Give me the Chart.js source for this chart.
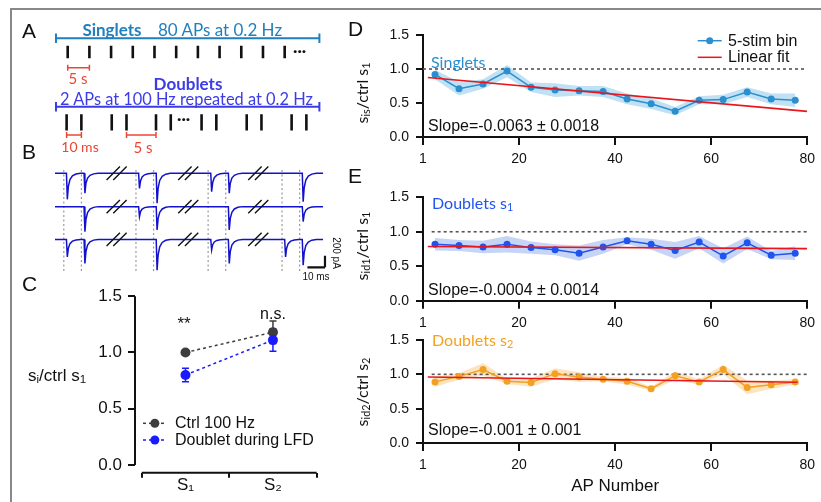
<!DOCTYPE html>
<html>
<head>
<meta charset="utf-8">
<script src="https://cdn.jsdelivr.net/npm/chart.js@4.4.1/dist/chart.umd.min.js"></script>
<style>
  body { margin: 0; background: #fff; }
  #fig { position: relative; width: 821px; height: 502px; overflow: hidden;
         font-family: "Liberation Sans", Arial, sans-serif; color: #111; }
  #fig canvas { position: absolute; }
  .frame { position: absolute; left: 10px; top: 8px; right: -10px; bottom: -10px;
           border-top: 2.5px solid #888; border-left: 2.5px solid #888; }
  .t { position: absolute; white-space: nowrap; line-height: 1; transform: translateY(-50%); }
  .c { transform: translate(-50%, -50%); }
  .rot { position: absolute; white-space: nowrap; line-height: 1; transform: translate(-50%, -50%) rotate(-90deg); }
  .cal { font-family: Lato, "Open Sans", sans-serif; }
  .letter { font-size: 21px; }
  sub { font-size: 0.68em; vertical-align: -0.22em; line-height: 0; }
</style>
</head>
<body>
<div id="fig">
  <div class="frame"></div>
  <canvas id="cA" width="345" height="150" style="left:0;top:10px"></canvas>
  <canvas id="cB" width="345" height="130" style="left:0;top:160px"></canvas>
  <canvas id="cC" width="345" height="222" style="left:0;top:280px"></canvas>
  <canvas id="cD" width="471" height="180" style="left:350px;top:0"></canvas>
  <canvas id="cE1" width="471" height="180" style="left:350px;top:165px"></canvas>
  <canvas id="cE2" width="471" height="182" style="left:350px;top:320px"></canvas>

  <!-- panel letters -->
  <div class="t letter" style="left:22px;top:30px">A</div>
  <div class="t letter" style="left:22px;top:151px">B</div>
  <div class="t letter" style="left:22px;top:283px">C</div>
  <div class="t letter" style="left:348px;top:28px">D</div>
  <div class="t letter" style="left:348px;top:175px">E</div>

  <!-- panel A text -->
  <div class="t c cal" style="left:112px;top:29px;font-size:17px;font-weight:bold;color:#1f7fbf">Singlets</div>
  <div class="t cal" style="left:158px;top:29px;font-size:17px;color:#1f7fbf">80 APs at 0.2 Hz</div>
  <div class="t cal" style="left:293px;top:50px;font-size:16px;font-weight:bold">···</div>
  <div class="t c cal" style="left:78px;top:78px;font-size:15px;color:#eb4632">5 s</div>
  <div class="t c cal" style="left:188px;top:83px;font-size:17px;font-weight:bold;color:#3c3ce6">Doublets</div>
  <div class="t cal" style="left:60px;top:99px;font-size:16.4px;color:#3c3ce6">2 APs at 100 Hz repeated at 0.2 Hz</div>
  <div class="t cal" style="left:177px;top:118px;font-size:16px;font-weight:bold">···</div>
  <div class="t c cal" style="left:80px;top:147px;font-size:14px;color:#eb4632">10 ms</div>
  <div class="t c cal" style="left:143px;top:147px;font-size:15px;color:#eb4632">5 s</div>

  <!-- panel B scale text -->
  <div class="t c" style="left:336px;top:253px;font-size:10px;transform:translate(-50%,-50%) rotate(90deg)">200 pA</div>
  <div class="t c" style="left:316px;top:277px;font-size:10px">10 ms</div>

  <!-- panel C text -->
  <div class="t" style="left:28px;top:375px;font-size:17px">s<sub>i</sub>/ctrl s<sub>1</sub></div>
  <div class="t c" style="left:184px;top:323px;font-size:17px">**</div>
  <div class="t c" style="left:273px;top:314px;font-size:16px">n.s.</div>
  <div class="t" style="left:175px;top:423px;font-size:16px">Ctrl 100 Hz</div>
  <div class="t" style="left:175px;top:440px;font-size:16px">Doublet during LFD</div>

  <!-- panel D / E text -->
  <div class="rot cal" style="left:362px;top:93px;font-size:16px">s<sub>is</sub>/ctrl s<sub>1</sub></div>
  <div class="rot cal" style="left:362px;top:246px;font-size:16px">s<sub>id1</sub>/ctrl s<sub>1</sub></div>
  <div class="rot cal" style="left:362px;top:392px;font-size:16px">s<sub>id2</sub>/ctrl s<sub>2</sub></div>
  <div class="t cal" style="left:431px;top:62px;font-size:16px;color:#2b8fcf">Singlets</div>
  <div class="t cal" style="left:432px;top:203px;font-size:16px;color:#1f55ee">Doublets s<sub>1</sub></div>
  <div class="t cal" style="left:432px;top:340px;font-size:16px;color:#f4a021">Doublets s<sub>2</sub></div>
  <div class="t" style="left:428px;top:126px;font-size:16px">Slope=-0.0063 ± 0.0018</div>
  <div class="t" style="left:428px;top:290px;font-size:16px">Slope=-0.0004 ± 0.0014</div>
  <div class="t" style="left:428px;top:430px;font-size:16px">Slope=-0.001 ± 0.001</div>
  <div class="t" style="left:728px;top:41px;font-size:16px">5-stim bin</div>
  <div class="t" style="left:728px;top:57px;font-size:16px">Linear fit</div>
</div>

<script>
// ---- panel A: stimulation schematic (x in units of one 5 s interval) ----
const singletPulses = [0, 1, 2, 3, 4, 5, 6, 7, 8, 9, 10];
const doubletStarts = [-0.05, 2.03, 4.07, 6.17, 8.25, 10.32];
const doubletGap = 0.68;
const trainSpan = [-0.54, 11.6];

// ---- panel B: example sweeps (drawn ms, peak amplitude pA, 0 = failure) ----
const stimTimes = [5, 15, 46, 56, 87, 97, 129, 139];
const sweep1Amp = [445, 340, 260, 510, 315, 340, 0, 485];
const sweep2Amp = [0, 430, 170, 400, 0, 400, 0, 255];
const sweep3Amp = [300, 410, 0, 525, 180, 410, 300, 440];
const sweepBase = [0, -570, -1130];
const breakTimes = [35, 75.7, 115.5];
const spikeShape = [[0, 0], [0.5, -1], [1.1, -0.5], [2, -0.24], [3.4, -0.1], [5.4, -0.03], [8, 0]];

// ---- panel C ----
const cCategories = ['S\u2081', 'S\u2082'];
const cCategoryPos = [0.5, 1.5];
const ctrlMean = [1.0, 1.18];
const ctrlSem = [0, 0.1];
const dblMean = [0.80, 1.11];
const dblSem = [0.06, 0.1];
const cTicks = [0, 0.5, 1.0, 1.5];

// ---- panels D / E ----
const apBins = [2.5, 7.5, 12.5, 17.5, 22.5, 27.5, 32.5, 37.5, 42.5, 47.5, 52.5, 57.5, 62.5, 67.5, 72.5, 77.5];
const apTickValues = [0, 20, 40, 60, 80];
const apTickLabels = ['1', '20', '40', '60', '80'];
const ratioTicks = [0, 0.5, 1.0, 1.5];

const singletMean = [0.92, 0.71, 0.78, 0.97, 0.73, 0.69, 0.68, 0.67, 0.56, 0.49, 0.38, 0.54, 0.55, 0.66, 0.56, 0.54];
const singletSem  = [0.07, 0.10, 0.07, 0.09, 0.07, 0.10, 0.07, 0.08, 0.08, 0.08, 0.06, 0.06, 0.07, 0.07, 0.08, 0.10];
const dbl1Mean = [0.82, 0.80, 0.78, 0.82, 0.77, 0.74, 0.69, 0.78, 0.87, 0.82, 0.73, 0.85, 0.65, 0.84, 0.66, 0.69];
const dbl1Sem  = [0.09, 0.08, 0.09, 0.12, 0.09, 0.08, 0.11, 0.10, 0.05, 0.08, 0.12, 0.09, 0.11, 0.09, 0.06, 0.10];
const dbl2Mean = [0.89, 0.97, 1.07, 0.90, 0.88, 1.01, 0.96, 0.93, 0.90, 0.79, 0.98, 0.89, 1.07, 0.81, 0.85, 0.89];
const dbl2Sem  = [0.07, 0.05, 0.09, 0.04, 0.06, 0.08, 0.07, 0.03, 0.05, 0.03, 0.06, 0.04, 0.07, 0.10, 0.06, 0.04];
// linear fits: x from, x to, y at start, slope
const singletFit = [1, 80, 0.874, -0.0063];
const dbl1Fit = [1, 80, 0.787, -0.0004];
const dbl2Fit = [1, 78, 0.961, -0.001];

const INK = '#111';
const FONT = '"Liberation Sans", Arial, sans-serif';

// list of [[x1,y1],[x2,y2]] segments -> points with gaps
function segs(list) {
  const out = [];
  list.forEach(([a, b]) => { out.push({x: a[0], y: a[1]}, {x: b[0], y: b[1]}, {x: b[0], y: null}); });
  return out;
}
function lineSet(data, color, width, extra) {
  return Object.assign({data, borderColor: color, borderWidth: width, pointRadius: 0, spanGaps: false, tension: 0}, extra || {});
}
const base = {
  responsive: false, animation: false, devicePixelRatio: 1,
  plugins: {legend: {display: false}, tooltip: {enabled: false}}
};

// axis lines drawn between two data values (detached Igor-style axes)
const igorAxes = {
  id: 'igorAxes',
  afterDraw(chart, args, opts) {
    if (!opts.x) return;
    const {ctx, chartArea, scales: {x, y}} = chart;
    ctx.save();
    ctx.strokeStyle = INK; ctx.lineWidth = 2;
    ctx.beginPath();
    ctx.moveTo(chartArea.left, y.getPixelForValue(opts.y[0]));
    ctx.lineTo(chartArea.left, y.getPixelForValue(opts.y[1]));
    ctx.moveTo(x.getPixelForValue(opts.x[0]), chartArea.bottom);
    ctx.lineTo(x.getPixelForValue(opts.x[1]), chartArea.bottom);
    ctx.stroke();
    ctx.restore();
  }
};

const errorBars = {
  id: 'errorBars',
  beforeDatasetsDraw(chart) {
    const {ctx} = chart;
    const ys = chart.scales.y;
    chart.data.datasets.forEach((ds, i) => {
      if (!ds.errors) return;
      const meta = chart.getDatasetMeta(i);
      ctx.save();
      ctx.strokeStyle = ds.borderColor; ctx.lineWidth = 1.5;
      meta.data.forEach((pt, j) => {
        const e = ds.errors[j];
        if (!e) return;
        const v = ds.data[j].y;
        const top = ys.getPixelForValue(v + e), bot = ys.getPixelForValue(v - e);
        ctx.beginPath();
        ctx.moveTo(pt.x, top); ctx.lineTo(pt.x, bot);
        ctx.moveTo(pt.x - 3.5, top); ctx.lineTo(pt.x + 3.5, top);
        ctx.moveTo(pt.x - 3.5, bot); ctx.lineTo(pt.x + 3.5, bot);
        ctx.stroke();
      });
      ctx.restore();
    });
  }
};

// legend symbols (line with optional dot)
const legendMarks = {
  id: 'legendMarks',
  afterDraw(chart, args, opts) {
    const {ctx} = chart;
    (opts.items || []).forEach(it => {
      ctx.save();
      ctx.strokeStyle = it.color; ctx.lineWidth = 1.5;
      ctx.setLineDash(it.dash || []);
      ctx.beginPath(); ctx.moveTo(it.x0, it.y); ctx.lineTo(it.x1, it.y); ctx.stroke();
      if (it.r) {
        ctx.fillStyle = it.color;
        ctx.beginPath(); ctx.arc((it.x0 + it.x1) / 2, it.y, it.r, 0, Math.PI * 2); ctx.fill();
      }
      ctx.restore();
    });
  }
};

// ---------- Panel A ----------
const capA = (x, y) => [[x, y - 4.8], [x, y + 4.8]];
const singletBar = segs([[[trainSpan[0], 38.3], [trainSpan[1], 38.3]], capA(trainSpan[0], 38.3), capA(trainSpan[1], 38.3)]);
const doubletBar = segs([[[trainSpan[0], 106.7], [trainSpan[1], 106.7]], capA(trainSpan[0], 106.7), capA(trainSpan[1], 106.7)]);
const singletTicks = segs(singletPulses.map(u => [[u, 45.7], [u, 58.3]]));
const doubletTicks = segs(doubletStarts.flatMap(s => [[[s, 114.3], [s, 130.5]], [[s + doubletGap, 114.3], [s + doubletGap, 130.5]]]));
const redCap = (x, y) => [[x, y - 3], [x, y + 3]];
const redBarList = [
  [singletPulses[0], singletPulses[1], 67.7],
  [doubletStarts[0], doubletStarts[0] + doubletGap, 135],
  [doubletStarts[1] + doubletGap, doubletStarts[2], 135]
];
const redBars = segs(redBarList.flatMap(([a, b, y]) => [[[a, y], [b, y]], redCap(a, y), redCap(b, y)]));

new Chart(document.getElementById('cA'), {
  type: 'line',
  data: {datasets: [
    lineSet(singletBar, '#1f7fbf', 2),
    lineSet(doubletBar, '#3c3ce6', 2),
    lineSet(singletTicks, INK, 2.6),
    lineSet(doubletTicks, INK, 2.6),
    lineSet(redBars, '#eb4632', 1.5)
  ]},
  options: Object.assign({}, base, {
    layout: {padding: 0},
    scales: {
      x: {type: 'linear', display: false, min: -3.12, max: 12.78},
      y: {type: 'linear', display: false, min: 10, max: 160, reverse: true}
    }
  })
});

// ---------- Panel B ----------
function buildSweep(amps, b) {
  const pts = [{x: 0, y: b}];
  stimTimes.forEach((s, i) => {
    if (!amps[i]) return;
    const t0 = s + 1.5;
    spikeShape.forEach(([dt, f]) => pts.push({x: t0 + dt, y: b + f * amps[i]}));
  });
  pts.push({x: 152.3, y: b});
  return pts;
}
const stimLines = segs(stimTimes.map(t => [[t, 56], [t, -1688]]));
const breakMarks = segs(sweepBase.flatMap(b => breakTimes.flatMap(c => [
  [[c - 5.7, b - 114], [c + 1.9, b + 114]],
  [[c - 1.9, b - 114], [c + 5.7, b + 114]]
])));
const scaleBar = segs([[[143.4, -1608], [153.4, -1608]], [[153.4, -1608], [153.4, -1408]]]);

new Chart(document.getElementById('cB'), {
  type: 'line',
  data: {datasets: [
    lineSet(buildSweep(sweep1Amp, sweepBase[0]), '#1212cc', 1.5, {order: 1}),
    lineSet(buildSweep(sweep2Amp, sweepBase[1]), '#1212cc', 1.5, {order: 1}),
    lineSet(buildSweep(sweep3Amp, sweepBase[2]), '#1212cc', 1.5, {order: 1}),
    lineSet(stimLines, '#9a9a9a', 1.2, {borderDash: [2, 2.5], order: 2}),
    lineSet(breakMarks, INK, 1.4, {order: 0}),
    lineSet(scaleBar, INK, 2.2, {order: 0})
  ]},
  options: Object.assign({}, base, {
    layout: {padding: 0},
    scales: {
      x: {type: 'linear', display: false, min: -31.25, max: 164.77},
      y: {type: 'linear', display: false, min: -1995, max: 227}
    }
  })
});

// ---------- Panel C ----------
new Chart(document.getElementById('cC'), {
  type: 'line',
  data: {datasets: [
    {data: cCategoryPos.map((x, i) => ({x, y: dblMean[i]})), errors: dblSem,
     borderColor: '#1a1aff', backgroundColor: '#1a1aff', borderDash: [3, 3], borderWidth: 1.5,
     pointRadius: 5, pointBorderWidth: 0},
    {data: cCategoryPos.map((x, i) => ({x, y: ctrlMean[i]})), errors: ctrlSem,
     borderColor: '#3d3d3d', backgroundColor: '#3d3d3d', borderDash: [3, 3], borderWidth: 1.5,
     pointRadius: 5, pointBorderWidth: 0}
  ]},
  options: Object.assign({}, base, {
    layout: {padding: {left: 0, top: 15.7, right: 28.3, bottom: 4.3}},
    scales: {
      x: {
        type: 'linear', min: -0.077, max: 2,
        afterBuildTicks: s => { s.ticks = [0, 0.5, 1, 1.5, 2].map(v => ({value: v})); },
        afterFit: s => { s.height = 25; },
        ticks: {autoSkip: false, maxRotation: 0, padding: -3, color: INK, font: {size: 17, family: FONT},
                callback: v => { const k = cCategoryPos.indexOf(v); return k >= 0 ? cCategories[k] : ''; }},
        grid: {drawOnChartArea: false, tickLength: 5, lineWidth: 2,
               tickColor: c => (c.tick && Number.isInteger(c.tick.value)) ? INK : 'rgba(0,0,0,0)'},
        border: {display: false}
      },
      y: {
        type: 'linear', min: -0.068, max: 1.5,
        afterBuildTicks: s => { s.ticks = cTicks.map(v => ({value: v})); },
        afterFit: s => { s.width = 135; },
        ticks: {padding: 6, color: INK, font: {size: 17, family: FONT}, callback: v => v.toFixed(1)},
        grid: {drawOnChartArea: false, tickLength: 7, lineWidth: 2, tickColor: INK},
        border: {display: false}
      }
    },
    plugins: Object.assign({}, base.plugins, {
      igorAxes: {x: [0, 2], y: [0, 1.5]},
      legendMarks: {items: [
        {x0: 143, x1: 166.7, y: 143.3, color: '#3d3d3d', dash: [3, 3], r: 4.5},
        {x0: 143, x1: 166.7, y: 160, color: '#1a1aff', dash: [3, 3], r: 4.5}
      ]}
    })
  }),
  plugins: [igorAxes, errorBars, legendMarks]
});

// ---------- Panels D / E ----------
function ratioPanel(id, mean, sem, color, band, fit, refFrom, padTop, padBottom, xHeight, withTitle, marks) {
  const pts = apBins.map((x, i) => ({x, y: mean[i]}));
  const hi = apBins.map((x, i) => ({x, y: mean[i] + sem[i]}));
  const lo = apBins.map((x, i) => ({x, y: mean[i] - sem[i]}));
  const fitPts = [{x: fit[0], y: fit[2]}, {x: fit[1], y: fit[2] + fit[3] * (fit[1] - fit[0])}];
  return new Chart(document.getElementById(id), {
    type: 'line',
    data: {datasets: [
      {data: pts, borderColor: color, backgroundColor: color, borderWidth: 1.5, pointRadius: 3.5, pointBorderWidth: 0, tension: 0, order: 1},
      lineSet(fitPts, '#e8161c', 1.6, {order: 0}),
      lineSet([{x: refFrom, y: 1}, {x: 80, y: 1}], '#555', 1.6, {borderDash: [3, 3], order: 2}),
      {data: hi, borderColor: 'rgba(0,0,0,0)', borderWidth: 0, pointRadius: 0, tension: 0, fill: '+1', backgroundColor: band, order: 3},
      {data: lo, borderColor: 'rgba(0,0,0,0)', borderWidth: 0, pointRadius: 0, tension: 0, fill: false, order: 4}
    ]},
    options: Object.assign({}, base, {
      layout: {padding: {left: 0, top: padTop, right: 8, bottom: padBottom}},
      scales: {
        x: {
          type: 'linear', min: 0, max: 80,
          afterBuildTicks: s => { s.ticks = apTickValues.map(v => ({value: v})); },
          afterFit: s => { s.height = xHeight; },
          ticks: {autoSkip: false, maxRotation: 0, padding: 6, color: INK, font: {size: 14, family: FONT},
                  callback: (v, i) => apTickLabels[i]},
          grid: {drawOnChartArea: false, tickLength: 8, lineWidth: 2, tickColor: INK},
          border: {display: true, color: INK, width: 2},
          title: {display: withTitle, text: 'AP Number', color: INK, font: {size: 17, family: FONT},
                  padding: {top: 0, bottom: 5}}
        },
        y: {
          type: 'linear', min: 0, max: 1.5,
          afterBuildTicks: s => { s.ticks = ratioTicks.map(v => ({value: v})); },
          afterFit: s => { s.width = 73; },
          ticks: {padding: 7, color: INK, font: {size: 14, family: FONT}, callback: v => v.toFixed(1)},
          grid: {drawOnChartArea: false, tickLength: 7, lineWidth: 2, tickColor: INK},
          border: {display: true, color: INK, width: 2}
        }
      },
      plugins: Object.assign({}, base.plugins, {legendMarks: {items: marks}})
    }),
    plugins: [legendMarks]
  });
}

ratioPanel('cD', singletMean, singletSem, '#2b8fcf', 'rgba(150,205,235,0.6)', singletFit, 0, 35, 5, 38, false, [
  {x0: 347.7, x1: 371.7, y: 40.7, color: '#2b8fcf', r: 3.5},
  {x0: 347.7, x1: 371.7, y: 57.3, color: '#e8161c'}
]);
ratioPanel('cE1', dbl1Mean, dbl1Sem, '#1f55ee', 'rgba(160,185,240,0.6)', dbl1Fit, 1.8, 32.3, 6.3, 38, false, []);
ratioPanel('cE2', dbl2Mean, dbl2Sem, '#f4a021', 'rgba(250,210,150,0.6)', dbl2Fit, 1.8, 20, 0, 59, true, []);
</script>
</body>
</html>
